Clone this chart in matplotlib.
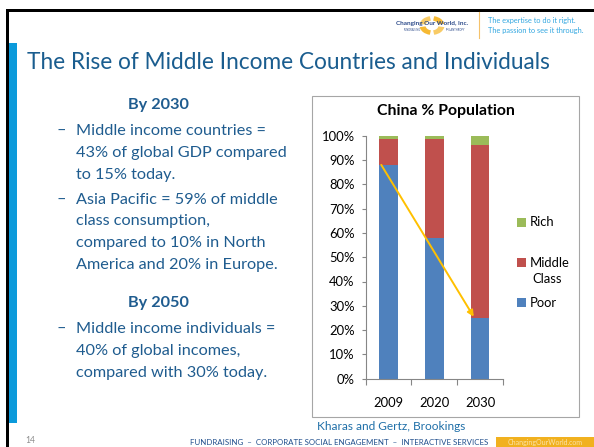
import matplotlib
matplotlib.use("Agg")
import matplotlib.pyplot as plt
from matplotlib.patches import Rectangle, Wedge
from matplotlib.lines import Line2D

# ---------------- data ----------------
years = ["2009", "2020", "2030"]
poor = [0.88, 0.58, 0.25]
middle = [0.107, 0.406, 0.71]
rich = [0.013, 0.014, 0.04]
series_names = ["Poor", "Middle\nClass", "Rich"]
series_colors = ["#4F81BD", "#C0504D", "#9BBB59"]
yticks = [0, 0.1, 0.2, 0.3, 0.4, 0.5, 0.6, 0.7, 0.8, 0.9, 1.0]
ytick_labels = ["0%", "10%", "20%", "30%", "40%", "50%", "60%", "70%", "80%", "90%", "100%"]
chart_title = "China % Population"
source = "Kharas and Gertz, Brookings"
slide_title = "The Rise of Middle Income Countries and Individuals"
heading1 = "By 2030"
bullets1 = [["Middle income countries =", "43% of global GDP compared", "to 15% today."],
            ["Asia Pacific = 59% of middle", "class consumption,", "compared to 10% in North",
             "America and 20% in Europe."]]
heading2 = "By 2050"
bullets2 = [["Middle income individuals =", "40% of global incomes,", "compared with 30% today."]]
footer = "FUNDRAISING  \u2013  CORPORATE SOCIAL ENGAGEMENT  \u2013  INTERACTIVE SERVICES"
tagline = ["The expertise to do it right.", "The passion to see it through."]

W, H = 594, 447
FONT = "Lato"
plt.rcParams["font.family"] = [FONT, "DejaVu Sans"]

fig = plt.figure(figsize=(W / 100, H / 100), dpi=100)
fig.patch.set_facecolor("white")


def fx(x):
    return x / W


def fy(y):
    return 1 - y / H


def ftext(x, y, s, **kw):
    return fig.text(fx(x), fy(y), s, **kw)


def frect(x0, y0, x1, y1, **kw):
    fig.add_artist(Rectangle((fx(x0), fy(y1)), fx(x1) - fx(x0), fy(y0) - fy(y1),
                             transform=fig.transFigure, **kw))


def fline(x0, y0, x1, y1, **kw):
    fig.add_artist(Line2D([fx(x0), fx(x1)], [fy(y0), fy(y1)], transform=fig.transFigure, **kw))


# ---------------- slide frame ----------------
frect(6, 9, W + 5, 12, facecolor="black", edgecolor="none")       # top border
frect(6, 9, 9, H + 5, facecolor="black", edgecolor="none")        # left border
frect(9, 43, 16.5, 423, facecolor="#0B9ADB", edgecolor="none")    # blue side bar

# logo
lx, ly, lr = 432, 25.5, 12.5
for a0, col in [(10, "#F6B21B"), (100, "#F8C655"), (190, "#F6B21B"), (280, "#F8C655")]:
    fig.add_artist(Wedge((fx(lx), fy(ly)), fx(lr), a0, a0 + 70, width=fx(6),
                         transform=fig.transFigure, facecolor=col, edgecolor="none", alpha=0.9))
ftext(432, 23.5, "Changing Our World, Inc.", fontsize=4.6, color="#2C4A8A", ha="center",
      va="center", fontweight="bold")
ftext(412, 30, "FUNDRAISING", fontsize=1.8, color="#2C4A8A", ha="center", va="center")
ftext(455, 30, "PHILANTHROPY", fontsize=1.8, color="#2C4A8A", ha="center", va="center")
fline(479, 12, 479, 38, color="#F5C26B", lw=0.8)
ftext(488, 20.5, tagline[0], fontsize=5.3, color="#30A6E0", ha="left", va="center")
ftext(488, 30, tagline[1], fontsize=5.3, color="#30A6E0", ha="left", va="center")

# slide title
ftext(27, 62.5, slide_title, fontsize=16.3, color="#1A5D8F", ha="left", va="center")

# ---------------- left text block ----------------
TXT = "#1F5C8F"
BS = 11.7
ftext(158, 105, heading1, fontsize=BS, color=TXT, ha="center", va="center", fontweight="bold")
y = 130.7
LS = 21.9
for b in bullets1:
    ftext(57, y, "\u2013", fontsize=BS, color=TXT, ha="left", va="center")
    for ln in b:
        ftext(76, y, ln, fontsize=BS, color=TXT, ha="left", va="center")
        y += LS
    y += 3.2
ftext(158, 303.3, heading2, fontsize=BS, color=TXT, ha="center", va="center", fontweight="bold")
y = 329.3
for b in bullets2:
    ftext(57, y, "\u2013", fontsize=BS, color=TXT, ha="left", va="center")
    for ln in b:
        ftext(76, y, ln, fontsize=BS, color=TXT, ha="left", va="center")
        y += LS

# ---------------- chart box ----------------
frect(312, 95.5, 579, 416.5, facecolor="none", edgecolor="#A6A6A6", lw=0.8)
ftext(445.5, 111.5, chart_title, fontsize=11.4, fontweight="bold", color="black",
      ha="center", va="center")

ax_l, ax_r = 365.7, 503.0
ax_t, ax_b = 135.7, 378.7
ax = fig.add_axes([fx(ax_l), fy(ax_b), fx(ax_r) - fx(ax_l), fy(ax_t) - fy(ax_b)])
ax.set_facecolor("none")
x = list(range(len(years)))
bw = 0.4
bottoms = [0.0] * len(years)
for vals, name, col in zip([poor, middle, rich], series_names, series_colors):
    ax.bar(x, vals, bw, bottom=bottoms, color=col, edgecolor="none", label=name)
    bottoms = [b0 + v for b0, v in zip(bottoms, vals)]

ax.set_xlim(-0.5, len(years) - 0.5)
ax.set_ylim(0, 1)
ax.set_yticks(yticks)
ax.set_yticklabels(ytick_labels)
ax.set_xticks(x)
ax.set_xticklabels(years)
ax.set_xticks([i - 0.5 for i in range(len(years) + 1)], minor=True)
ax.tick_params(axis="x", which="major", length=0, pad=13.5, labelsize=9.4)
ax.tick_params(axis="x", which="minor", length=4, width=0.8, color="#868686", direction="out")
ax.tick_params(axis="y", which="major", length=3, width=0.8, color="#868686", pad=5, labelsize=9.4)
for s in ["top", "right"]:
    ax.spines[s].set_visible(False)
for s in ["left", "bottom"]:
    ax.spines[s].set_color("#868686")
    ax.spines[s].set_linewidth(0.8)

# trend arrow from 2009 poor share to 2030 poor share
ax.annotate("", xy=(x[-1] - bw / 2 + 0.06, poor[-1] + 0.005),
            xytext=(x[0] - bw / 2 + 0.04, poor[0]),
            arrowprops=dict(arrowstyle="-|>", color="#FFC000", lw=1.4, mutation_scale=9,
                            shrinkA=0, shrinkB=0))

# legend (reversed order, Excel style)
leg_y = [222.2, 262.7, 302.7]
for (name, col), ly_ in zip(list(zip(series_names, series_colors))[::-1], leg_y):
    frect(516.7, ly_ - 4.5, 525.7, ly_ + 4.5, facecolor=col, edgecolor="none")
    first, *rest = name.split("\n")
    ftext(530, ly_, first, fontsize=9.4, color="black", ha="left", va="center")
    for k, r in enumerate(rest):
        ftext(547.5, ly_ + 16.5 * (k + 1), r, fontsize=9.4, color="black", ha="center", va="center")

ftext(391, 427, source, fontsize=8.6, color="#1F6FA8", ha="center", va="center")

# ---------------- footer ----------------
ftext(25, 440.5, "14", fontsize=6.2, color="#8C8C8C", ha="left", va="center")
ftext(339, 442.5, footer, fontsize=5.7, color="#1F4E8C", ha="center", va="center")
frect(496, 436.5, 594, 448, facecolor="#F1B11F", edgecolor="none")
ftext(545, 443, "ChangingOurWorld.com", fontsize=5.0, color="#FBE3A8", ha="center", va="center")

fig.savefig("out.png", dpi=100)
